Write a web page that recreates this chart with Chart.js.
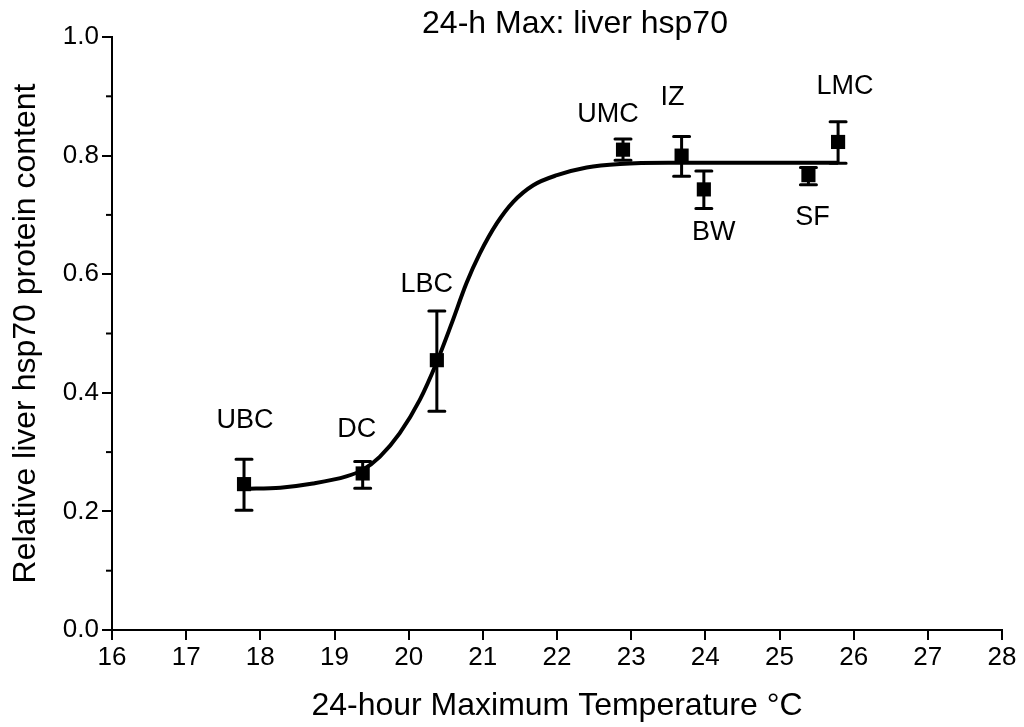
<!DOCTYPE html>
<html>
<head>
<meta charset="utf-8">
<script src="https://cdn.jsdelivr.net/npm/chart.js@4.4.0/dist/chart.umd.min.js"></script>
<style>
  body { margin: 0; background: #fff; }
  #wrap { width: 1024px; height: 727px; }
</style>
</head>
<body>
<div id="wrap"><canvas id="hspChart" width="1024" height="727"></canvas></div>
<script>
// Site means (+/- error)
const sites = ['UBC', 'DC', 'LBC', 'UMC', 'IZ', 'BW', 'SF', 'LMC'];
const siteTemp = [17.78, 19.38, 20.38, 22.89, 23.68, 23.98, 25.39, 25.79];
const siteHsp = [0.246, 0.264, 0.455, 0.810, 0.800, 0.743, 0.767, 0.823];
const errHigh = [0.288, 0.284, 0.538, 0.828, 0.832, 0.774, 0.780, 0.857];
const errLow = [0.202, 0.239, 0.369, 0.792, 0.765, 0.711, 0.751, 0.787];

// Fitted sigmoid
const fitTemp = [17.78, 18.27, 18.71, 19.16, 19.38, 19.61, 19.88, 20.15, 20.38, 20.58, 20.78, 20.96, 21.19, 21.41, 21.68, 22.0, 22.4, 22.85, 23.5, 24.5, 25.79];
const fitHsp = [0.238, 0.240, 0.247, 0.259, 0.270, 0.292, 0.332, 0.388, 0.452, 0.517, 0.585, 0.635, 0.686, 0.722, 0.750, 0.767, 0.780, 0.786, 0.788, 0.788, 0.788];

// Axis ticks
const xTicks = [16, 17, 18, 19, 20, 21, 22, 23, 24, 25, 26, 27, 28];
const yTicks = [0, 0.2, 0.4, 0.6, 0.8, 1.0];
const yMinorTicks = [0.1, 0.3, 0.5, 0.7, 0.9];

const FONT = "'Liberation Sans', Arial, sans-serif";

// Site names, error bars, minor ticks and the title
const extras = {
    id: 'extras',
    afterDatasetsDraw(chart) {
        const { ctx, scales: { x, y }, chartArea } = chart;
        ctx.save();
        ctx.strokeStyle = '#000';
        ctx.lineWidth = 3;
        ctx.lineCap = 'round';
        siteTemp.forEach((t, i) => {
            const px = x.getPixelForValue(t);
            const top = y.getPixelForValue(errHigh[i]);
            const bot = y.getPixelForValue(errLow[i]);
            ctx.beginPath();
            ctx.moveTo(px, top); ctx.lineTo(px, bot);
            ctx.moveTo(px - 8, top); ctx.lineTo(px + 8, top);
            ctx.moveTo(px - 8, bot); ctx.lineTo(px + 8, bot);
            ctx.stroke();
        });

        // label offsets from each point, px
        const offs = [[1, -64], [-6, -44], [-10, -76], [-15, -35], [-9, -58], [10, 43], [4, 42], [7, -55]];
        ctx.fillStyle = '#000';
        ctx.font = '27px ' + FONT;
        ctx.textAlign = 'center';
        ctx.textBaseline = 'middle';
        sites.forEach((s, i) => {
            const px = x.getPixelForValue(siteTemp[i]);
            const py = y.getPixelForValue(siteHsp[i]);
            ctx.fillText(s, px + offs[i][0], py + offs[i][1]);
        });

        // minor y ticks
        ctx.lineCap = 'butt';
        ctx.lineWidth = 2;
        yMinorTicks.forEach(v => {
            const py = y.getPixelForValue(v);
            ctx.beginPath();
            ctx.moveTo(chartArea.left - 6, py);
            ctx.lineTo(chartArea.left, py);
            ctx.stroke();
        });

        ctx.font = '32px ' + FONT;
        ctx.textBaseline = 'alphabetic';
        ctx.fillText('24-h Max: liver hsp70', (chartArea.left + chartArea.right) / 2 + 18, 33);
        ctx.restore();
    }
};

const ctx = document.getElementById('hspChart').getContext('2d');
new Chart(ctx, {
    type: 'scatter',
    data: {
        datasets: [{
            type: 'line',
            label: 'Fit',
            data: fitTemp.map((t, i) => ({ x: t, y: fitHsp[i] })),
            borderColor: '#000',
            borderWidth: 4,
            pointRadius: 0,
            cubicInterpolationMode: 'monotone',
            fill: false
        },
        {
            label: 'Sites',
            data: siteTemp.map((t, i) => ({ x: t, y: siteHsp[i] })),
            pointStyle: 'rect',
            pointRadius: 10,
            backgroundColor: '#000',
            borderColor: '#000',
            borderWidth: 0
        }]
    },
    options: {
        responsive: false,
        animation: false,
        layout: { padding: { top: 37, right: 22, left: 0, bottom: 0 } },
        plugins: {
            legend: { display: false },
            tooltip: { enabled: false }
        },
        scales: {
            x: {
                type: 'linear',
                min: 16,
                max: 28,
                afterBuildTicks: s => { s.ticks = xTicks.map(v => ({ value: v })); },
                afterFit: s => { s.height = 97; },
                grid: { drawOnChartArea: false, drawTicks: true, tickLength: 10, color: '#000', lineWidth: 2 },
                border: { display: true, color: '#000', width: 2 },
                ticks: { color: '#000', font: { family: FONT, size: 26 }, padding: 2, maxRotation: 0 },
                title: {
                    display: true,
                    text: '24-hour Maximum Temperature °C',
                    color: '#000',
                    font: { family: FONT, size: 32 },
                    padding: { top: 0, bottom: 2 }
                }
            },
            y: {
                type: 'linear',
                min: 0,
                max: 1,
                afterBuildTicks: s => { s.ticks = yTicks.map(v => ({ value: v })); },
                afterFit: s => { s.width = 112; },
                grid: { drawOnChartArea: false, drawTicks: true, tickLength: 10, color: '#000', lineWidth: 2 },
                border: { display: true, color: '#000', width: 2 },
                ticks: {
                    color: '#000',
                    font: { family: FONT, size: 26 },
                    padding: 3,
                    callback: v => v.toFixed(1)
                },
                title: {
                    display: true,
                    text: 'Relative liver hsp70 protein content',
                    color: '#000',
                    font: { family: FONT, size: 32 },
                    padding: { top: 7, bottom: 0 }
                }
            }
        }
    },
    plugins: [extras]
});
</script>
</body>
</html>
